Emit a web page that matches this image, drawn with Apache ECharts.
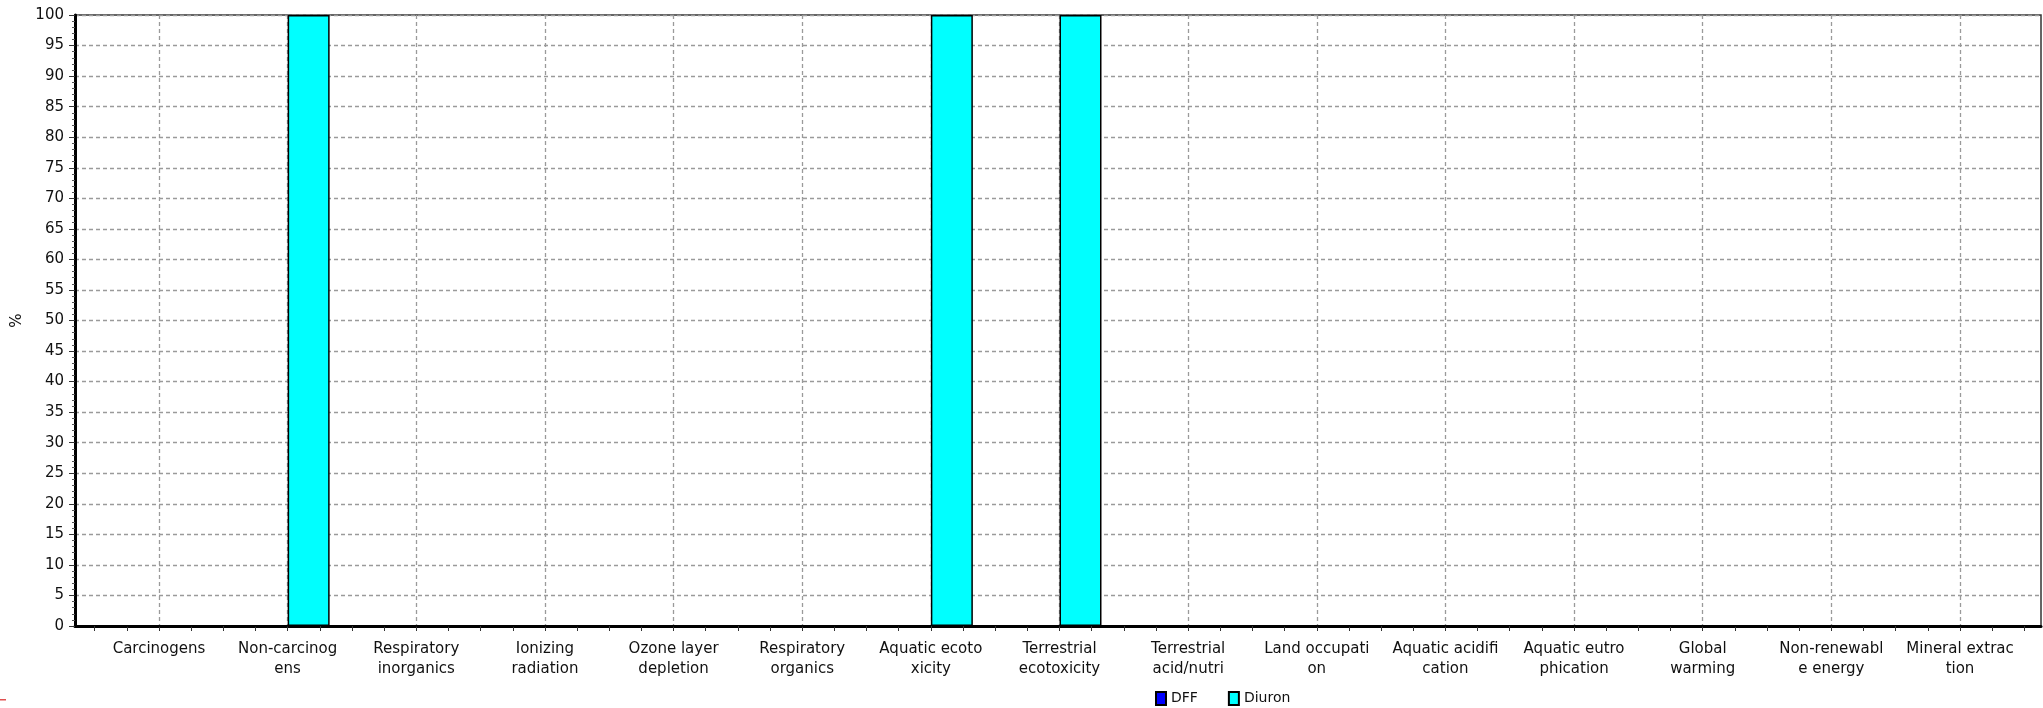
<!DOCTYPE html>
<html><head><meta charset="utf-8">
<script src="https://cdn.jsdelivr.net/npm/echarts@6/dist/echarts.min.js"></script>
<style>html,body{margin:0;padding:0;background:#fff}#c{width:2043px;height:708px}</style>
</head><body><div id="c"></div>
<script>
const categories = ["Carcinogens","Non-carcinog\nens","Respiratory\ninorganics","Ionizing\nradiation","Ozone layer\ndepletion","Respiratory\norganics","Aquatic ecoto\nxicity","Terrestrial\necotoxicity","Terrestrial\nacid/nutri","Land occupati\non","Aquatic acidifi\ncation","Aquatic eutro\nphication","Global\nwarming","Non-renewabl\ne energy","Mineral extrac\ntion"];
const dffValues = [0,0,0,0,0,0,0,0,0,0,0,0,0,0,0];
const diuronValues = [0,100,0,0,0,0,100,100,0,0,0,0,0,0,0];
const yTicks = {min:0,max:100,interval:5};

const font = "DejaVu Sans";
const gTop = 15, gBottom = 82;
const chart = echarts.init(document.getElementById('c'));
const dashed = {color:'#9a9a9a',width:1.3,type:[4,3]};
chart.setOption({
  animation:false,
  textStyle:{fontFamily:font},
  grid:[
    {left:75,right:2,top:gTop,bottom:gBottom,show:true,borderColor:'#333',borderWidth:1.5,backgroundColor:'#fff'},
    {left:94.7,right:18.7,top:gTop,bottom:gBottom},
    {left:159,right:83,top:gTop,bottom:gBottom}
  ],
  legend:{top:686,left:1150,itemWidth:10,itemHeight:13,itemGap:30,icon:'rect',
    textStyle:{fontFamily:font,fontSize:14,color:'#111'},data:['DFF','Diuron']},
  xAxis:[
    {gridIndex:0,type:'value',min:0,max:1,axisLabel:{show:false},axisTick:{show:false},splitLine:{show:false},
      axisLine:{show:true,lineStyle:{color:'#000',width:3}}},
    {gridIndex:1,type:'value',min:0,max:60,interval:1,axisLabel:{show:false},splitLine:{show:false},
      axisLine:{show:false},axisTick:{show:true,length:5,lineStyle:{color:'#333',width:1}}},
    {gridIndex:2,type:'category',data:categories,boundaryGap:false,axisLine:{show:false},axisTick:{show:false},
      splitLine:{show:true,lineStyle:dashed},
      axisLabel:{interval:0,margin:13,fontFamily:font,fontSize:15,color:'#111',lineHeight:20}}
  ],
  yAxis:[
    {gridIndex:0,type:'value',min:yTicks.min,max:yTicks.max,interval:yTicks.interval,
      name:'%',nameLocation:'middle',nameGap:48,nameRotate:90,nameTextStyle:{fontFamily:font,fontSize:15,color:'#111'},
      axisLine:{show:true,lineStyle:{color:'#000',width:3}},
      axisTick:{show:true,length:6,lineStyle:{color:'#333'}},
      minorTick:{show:true,splitNumber:5,length:3,lineStyle:{color:'#555'}},
      axisLabel:{margin:11,fontFamily:font,fontSize:15,color:'#111'},
      splitLine:{show:true,lineStyle:dashed}},
    {gridIndex:1,type:'value',min:0,max:100,show:false},
    {gridIndex:2,type:'value',min:0,max:100,show:false}
  ],
  series:[
    {name:'DFF',type:'bar',xAxisIndex:2,yAxisIndex:2,data:dffValues,barWidth:42,barGap:'0%',
      itemStyle:{color:'#0000ff',borderColor:'#000',borderWidth:1.5}},
    {name:'Diuron',type:'bar',xAxisIndex:2,yAxisIndex:2,data:diuronValues,barWidth:42,barGap:'0%',
      itemStyle:{color:'#00ffff',borderColor:'#000',borderWidth:1.5}}
  ],
  graphic:[{type:'rect',left:0,top:699,shape:{width:6,height:1.5},style:{fill:'#e05050'}}]
});
</script></body></html>
